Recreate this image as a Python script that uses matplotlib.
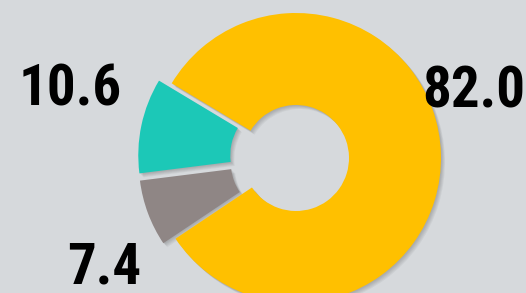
import matplotlib.pyplot as plt

labels = ["10.6", "7.4", "82.0"]
values = [10.6, 7.4, 82.0]
colors = ["#1cc8b7", "#8f8685", "#ffc000"]

fonts = ["Roboto Condensed", "PT Sans Narrow", "DejaVu Sans"]

fig = plt.figure(figsize=(5.26, 2.93), dpi=100)
fig.patch.set_facecolor("#d6d9dc")
ax = fig.add_axes([0, 0, 1, 1])
ax.set_facecolor("#d6d9dc")

cx, cy, r = 296, 135, 145
explode = [13, 13, 0]

# soft drop shadow: a few faint copies shifted down-right
for k in range(1, 6):
    ax.pie(values, colors=["black"] * 3, startangle=149, explode=explode,
           radius=r, center=(cx + k * 0.8, cy - k * 0.8),
           wedgeprops=dict(width=92, linewidth=0, alpha=0.045))

ax.pie(values, colors=colors, startangle=149, counterclock=True,
       explode=explode, radius=r, center=(cx, cy),
       wedgeprops=dict(width=92, linewidth=0))

ax.set_xlim(0, 526)
ax.set_ylim(0, 293)
ax.set_aspect("equal")
ax.axis("off")

# value labels
pos = [(70, 188), (104, 9), (474, 185)]
for lab, (x, y) in zip(labels, pos):
    ax.text(x, y, lab, fontsize=41, fontweight="bold", family=fonts,
            fontstretch="condensed", ha="center", va="baseline", color="black")

plt.savefig("out.png", dpi=100, facecolor=fig.get_facecolor())
